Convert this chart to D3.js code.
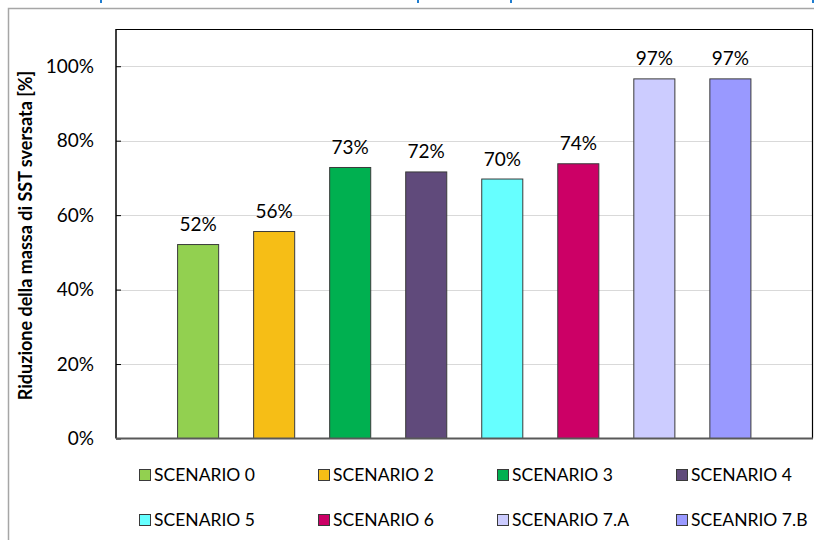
<!DOCTYPE html>
<html>
<head>
<meta charset="utf-8">
<script src="https://cdn.jsdelivr.net/npm/d3@7"></script>
<style>
  html, body { margin: 0; padding: 0; background: #fff; }
  svg { display: block; }
  text { font-family: Lato, "Open Sans", sans-serif; }
</style>
</head>
<body>
<svg id="chart" width="814" height="540"></svg>
<script>
// ---- data ----
const categories = ["SCENARIO 0", "SCENARIO 2", "SCENARIO 3", "SCENARIO 4",
                    "SCENARIO 5", "SCENARIO 6", "SCENARIO 7.A", "SCEANRIO 7.B"];
const values = [0.521, 0.556, 0.728, 0.716, 0.697, 0.738, 0.966, 0.966];
const colors = ["#92D050", "#F6BE16", "#00B050", "#604A7B",
                "#66FFFF", "#CC0066", "#CCCCFF", "#9999FF"];
const yTicks = [0, 0.2, 0.4, 0.6, 0.8, 1.0];
const yTitle = "Riduzione della massa di SST sversata [%]";

// ---- layout ----
const W = 814, H = 540;
const plot = { left: 116, right: 812.5, top: 29, bottom: 438.5 };
const svg = d3.select("#chart");

svg.append("rect").attr("width", W).attr("height", H).attr("fill", "#fff");

// cut-off title fragments at very top (decorative)
const fragX = [100, 417, 510, 812];
svg.append("g").selectAll("rect").data(fragX).join("rect")
  .attr("x", d => d).attr("y", 0).attr("width", 2).attr("height", 3)
  .attr("fill", "#1F7DD0");

// outer chart frame
svg.append("path")
  .attr("d", `M8.5,${H} V8.5 H${W}`)
  .attr("fill", "none").attr("stroke", "#A6A6A6").attr("stroke-width", 1.5);

const x = d3.scaleBand()
  .domain(categories)
  .range([plot.left, plot.right])
  .paddingInner(0.46)
  .paddingOuter(0.81);

const y = d3.scaleLinear().domain([0, 1.1]).range([plot.bottom, plot.top]);

// gridlines
svg.append("g").selectAll("line").data(yTicks.filter(d => d > 0)).join("line")
  .attr("x1", plot.left).attr("x2", plot.right)
  .attr("y1", d => Math.round(y(d)) + 0.5).attr("y2", d => Math.round(y(d)) + 0.5)
  .attr("stroke", "#D9D9D9").attr("stroke-width", 1);

// bars
svg.append("g").selectAll("rect").data(values).join("rect")
  .attr("x", (d, i) => x(categories[i]))
  .attr("y", d => y(d))
  .attr("width", x.bandwidth())
  .attr("height", d => y(0) - y(d))
  .attr("fill", (d, i) => colors[i])
  .attr("stroke", "#3A3A3A").attr("stroke-width", 1);

// value labels
const fmt = d3.format(".0%");
svg.append("g").selectAll("text").data(values).join("text")
  .attr("x", (d, i) => x(categories[i]) + x.bandwidth() / 2)
  .attr("y", d => y(d) - 13.5)
  .attr("text-anchor", "middle")
  .attr("font-size", 19)
  .attr("fill", "#000")
  .text(d => fmt(d));

// plot border (top, right)
svg.append("path")
  .attr("d", `M${plot.left},${plot.top + 0.5} H${plot.right} V${plot.bottom}`)
  .attr("fill", "none").attr("stroke", "#000").attr("stroke-width", 1.2);

// y axis
const yAxis = d3.axisLeft(y).tickValues(yTicks).tickFormat(d3.format(".0%"))
  .tickSize(-5).tickPadding(22);
const gy = svg.append("g").attr("transform", `translate(${plot.left},0)`).call(yAxis);
gy.select(".domain").attr("stroke", "#000").attr("stroke-width", 1.5)
  .attr("d", `M0,${plot.top}V${plot.bottom}`);
gy.selectAll(".tick line").attr("stroke", "#000");
gy.selectAll(".tick text").attr("font-size", 19).attr("fill", "#000")
  .attr("font-family", "Lato, 'Open Sans', sans-serif");

// x axis line
svg.append("line")
  .attr("x1", plot.left).attr("x2", plot.right + 0.5)
  .attr("y1", plot.bottom).attr("y2", plot.bottom)
  .attr("stroke", "#595959").attr("stroke-width", 1.8);

// y axis title
svg.append("text")
  .attr("transform", `translate(32,235.5) rotate(-90)`)
  .attr("text-anchor", "middle")
  .attr("font-size", 18)
  .attr("font-weight", "bold")
  .attr("fill", "#000")
  .text(yTitle);

// legend
const legCols = [139, 318, 497, 676];
const legRows = [475, 520];
const leg = svg.append("g").selectAll("g").data(categories).join("g")
  .attr("transform", (d, i) => `translate(${legCols[i % 4]},${legRows[Math.floor(i / 4)]})`);
leg.append("rect")
  .attr("x", 0.5).attr("y", -5.5).attr("width", 11).attr("height", 11)
  .attr("fill", (d, i) => colors[i])
  .attr("stroke", "#3A3A3A").attr("stroke-width", 1);
leg.append("text")
  .attr("x", 15).attr("y", 0).attr("dy", "0.36em")
  .attr("font-size", 17.5).attr("fill", "#000")
  .text(d => d);
</script>
</body>
</html>
